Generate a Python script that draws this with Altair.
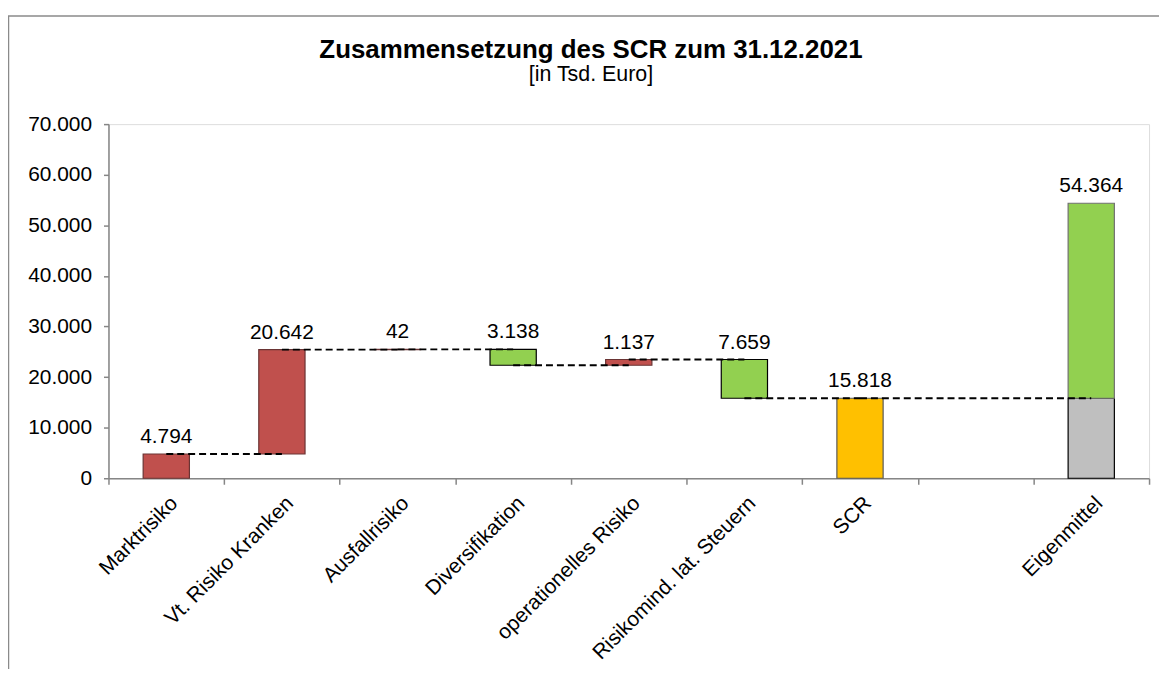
import altair as alt
import pandas as pd

# ---- data ----
categories = ["Marktrisiko", "Vt. Risiko Kranken", "Ausfallrisiko", "Diversifikation",
              "operationelles Risiko", "Risikomind. lat. Steuern", "SCR", " ", "Eigenmittel"]
step_names = ["Marktrisiko", "Vt. Risiko Kranken", "Ausfallrisiko", "Diversifikation",
              "operationelles Risiko", "Risikomind. lat. Steuern"]
step_values = [4794, 20642, 42, -3138, 1137, -7659]
scr_value = 15818
eigenmittel_value = 54364

RED, GREEN, ORANGE, GREY = "#C0504D", "#92D050", "#FFC000", "#BFBFBF"

def fmt(v):
    return f"{abs(v):,}".replace(",", ".")

# ---- build tables ----
bars, labels, rules = [], [], []
level = 0
for name, v in zip(step_names, step_values):
    start, end = level, level + v
    fill = RED if v >= 0 else GREEN
    stroke = "#6a3434" if v >= 0 else "#000000"
    bars.append(dict(cat=name, y0=start, y1=end, fill=fill, stroke=stroke))
    labels.append(dict(cat=name, y=max(start, end), text=fmt(v)))
    level = end
bars.append(dict(cat="SCR", y0=0, y1=scr_value, fill=ORANGE, stroke="#5a5a5a"))
labels.append(dict(cat="SCR", y=scr_value, text=fmt(scr_value)))
bars.append(dict(cat="Eigenmittel", y0=0, y1=scr_value, fill=GREY, stroke="#000000"))
bars.append(dict(cat="Eigenmittel", y0=scr_value, y1=eigenmittel_value, fill=GREEN, stroke="#707070"))
labels.append(dict(cat="Eigenmittel", y=eigenmittel_value, text=fmt(eigenmittel_value)))

# dashed connectors between consecutive bars
chain = step_names + ["SCR", "Eigenmittel"]
ends = [b["y1"] for b in bars[:len(step_names)]] + [scr_value]
for i in range(len(chain) - 1):
    rules.append(dict(c0=chain[i], c1=chain[i + 1], y=ends[i]))

bars_df = pd.DataFrame(bars)
labels_df = pd.DataFrame(labels)
rules_df = pd.DataFrame(rules)
frame_df = pd.DataFrame([{"k": 1}])

FONT = "Liberation Sans"
AXC = "#868686"

xscale = alt.Scale(domain=categories, paddingInner=0, paddingOuter=0)
yscale = alt.Scale(domain=[0, 70000], nice=False)

x_axis = alt.Axis(title=None, labelAngle=-45, tickBand="extent", labelFontSize=21,
                  labelFont=FONT, labelColor="black", domainColor=AXC, domainWidth=1.5,
                  tickColor=AXC, tickWidth=1.5, tickSize=6, labelPadding=8, labelLimit=0)
y_axis = alt.Axis(title=None, values=[0, 10000, 20000, 30000, 40000, 50000, 60000, 70000],
                  labelExpr="replace(format(datum.value, ','), ',', '.')",
                  grid=False, labelFontSize=21, labelFont=FONT, labelColor="black",
                  domainColor=AXC, domainWidth=1.5, tickColor=AXC, tickWidth=1.5,
                  tickSize=5, labelPadding=12)

bar_layer = alt.Chart(bars_df).mark_bar(width=alt.RelativeBandSize(0.4), strokeWidth=1.2).encode(
    x=alt.X("cat:N", scale=xscale, axis=x_axis, sort=categories),
    y=alt.Y("y0:Q", scale=yscale, axis=y_axis),
    y2="y1:Q",
    fill=alt.Fill("fill:N", scale=None),
    stroke=alt.Stroke("stroke:N", scale=None),
)

rule_layer = alt.Chart(rules_df).mark_rule(color="black", strokeWidth=1.8, strokeDash=[7, 4]).encode(
    x=alt.X("c0:N", scale=xscale, sort=categories, bandPosition=0.5),
    x2=alt.X2("c1:N", bandPosition=0.5),
    y=alt.Y("y:Q", scale=yscale),
)

text_layer = alt.Chart(labels_df).mark_text(fontSize=21, font=FONT, color="black",
                                            baseline="alphabetic", dy=-11).encode(
    x=alt.X("cat:N", scale=xscale, sort=categories),
    y=alt.Y("y:Q", scale=yscale),
    text="text:N",
)

frame_layer = alt.Chart(frame_df).mark_rect(fill=None, stroke="#8a8a8a", strokeWidth=1.5).encode(
    x=alt.value(-100.5), x2=alt.value(1080), y=alt.value(-108.8), y2=alt.value(600),
)

chart = alt.layer(bar_layer, rule_layer, text_layer, frame_layer).properties(
    width=1046,
    height=356,
    autosize=alt.AutoSizeParams(type="none"),
    padding={"left": 101, "top": 115, "right": 10, "bottom": 190},
    title=alt.TitleParams(
        text="Zusammensetzung des SCR zum 31.12.2021",
        subtitle="[in Tsd. Euro]",
        anchor="middle", frame="group", dx=-38, offset=-71,
        font=FONT, fontSize=26, fontWeight="bold", color="black",
        subtitleFont=FONT, subtitleFontSize=21.5, subtitleColor="black", subtitlePadding=1,
    ),
).configure_view(stroke=None).configure(background="white")

chart.save("out.html", embed_options={"renderer": "svg", "actions": False})
